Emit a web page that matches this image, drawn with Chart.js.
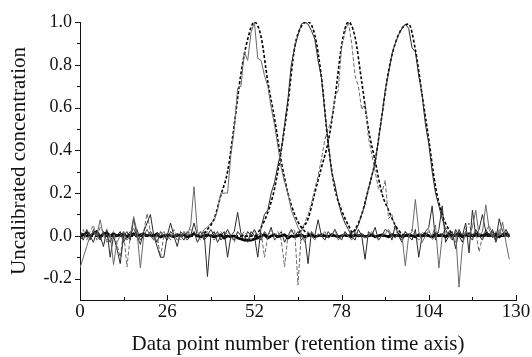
<!DOCTYPE html>
<html>
<head>
<meta charset="utf-8">
<script src="https://cdn.jsdelivr.net/npm/chart.js@4/dist/chart.umd.min.js"></script>
<style>
  html, body { margin: 0; padding: 0; background: #fff; }
  #wrap { width: 532px; height: 357px; }
</style>
</head>
<body>
<div id="wrap"><canvas id="c" width="532" height="357"></canvas></div>
<script>
// ---- Axis tick values ----
const xTickValues = [0, 26, 52, 78, 104, 130];
const yTickValues = [-0.2, 0.0, 0.2, 0.4, 0.6, 0.8, 1.0];

// ---- Data point numbers for the measured (noisy) traces: 0..128 ----
const dataPointNumbers = Array.from({ length: 129 }, (_, i) => i);

// ---- Noisy estimated profiles ----
const estA = [
  -0.15,-0.1,-0.05,0,0.02,0,0.075,0,-0.02,0.01,
  -0.135,-0.03,0,0.02,-0.02,0,0.09,0.02,-0.15,0,
  0.03,0,-0.02,0.01,0,0.02,-0.01,0,0.01,-0.02,
  0,0.02,0,0.05,0.23,0.02,0,0.03,0.04,0.06,
  0.07,0.12,0.2,0.2,0.2,0.38,0.5,0.69,0.7,0.86,
  0.82,0.95,1.0,0.83,0.82,0.75,0.7,0.6,0.52,0.42,
  0.32,0.25,0.2,0.12,0.08,0.04,0.01,-0.03,0.02,0,
  -0.02,0.01,0,0.02,-0.01,0,0.03,-0.02,0,0.01,
  0,-0.02,0.02,0,0.01,-0.01,0,0.02,0,-0.02,
  0,0.01,0.03,0,-0.01,0.02,0,-0.14,0,0.02,
  0.17,0.02,-0.03,0,0.02,0,0.05,-0.15,0,0.02,
  0,-0.01,0.02,-0.24,-0.05,0.02,0,0.04,0.12,0,
  0.02,0.145,0.03,-0.01,0.02,0,0.065,-0.03,-0.11
];
const estB = [
  0.01,-0.02,0.03,0,-0.03,0.02,0,-0.05,0.03,-0.1,
  0,-0.06,-0.13,0,0.02,-0.02,0.08,0,-0.04,0.02,
  0.06,0.1,0,-0.05,-0.1,-0.1,0,0.06,0,-0.05,
  0.02,0,-0.02,0,0.02,-0.03,0,0.02,-0.19,0,
  0.02,-0.03,0,0.02,-0.1,0,0.02,0.11,0.01,0,
  -0.03,0.02,0,-0.1,0.04,0.1,0.12,0.2,0.25,0.33,
  0.4,0.52,0.64,0.8,0.88,0.94,0.99,1.0,0.99,0.96,
  0.92,0.82,0.74,0.58,0.44,0.3,0.24,0.16,0.1,0.06,
  0.03,0,-0.02,0.03,0,-0.11,0.02,0,0.04,-0.02,
  0,0.03,0.02,-0.02,0.05,0,-0.03,0.02,0,-0.02,
  0.03,-0.1,0,0.02,0.04,0.14,-0.02,0.03,0.14,-0.03,
  0,0.02,-0.06,0.03,0,0.06,-0.08,0.12,0,0.03,
  0.1,0.02,0,0.03,-0.02,0.08,0.02,0,0.01
];
const estC = [
  0,0.03,-0.02,0.02,0.05,-0.02,0.04,0.02,-0.03,0,
  0.02,-0.04,-0.1,0.02,-0.145,0,0.04,-0.02,0,0.02,
  0.105,0.02,-0.02,0,-0.1,0,0.01,-0.02,0.03,0,
  -0.02,0.02,0,0.03,0.02,0,-0.02,0,0.02,0,
  -0.02,0,0.02,0,0.02,0,-0.03,0.02,0,0.02,
  0,-0.02,0.02,0,0.02,-0.1,0,0.03,0,0.02,
  -0.02,-0.145,0,0.02,0.03,-0.23,0.02,0.06,0.1,0.15,
  0.22,0.28,0.36,0.45,0.5,0.54,0.65,0.68,0.88,0.95,
  1.0,0.9,0.75,0.7,0.59,0.62,0.46,0.38,0.3,0.22,
  0.2,0.26,0.08,0.1,0.03,0,-0.02,0.02,0,0.03,
  0,-0.02,0.02,0,0.03,-0.02,0,0.02,0,0.04,
  0.02,0,-0.03,0.02,0,0.03,0.06,0,0.02,-0.075,
  0,0.02,0.05,0,-0.02,0.03,0,0.02,-0.02
];
const estD = [
  -0.02,0,0.02,-0.02,0.03,0,-0.02,0.02,0,-0.03,
  0.01,0,0.02,-0.03,0,0.02,0,0.03,-0.02,0,
  0,0.02,0,-0.03,0.02,0,-0.02,0.02,0,0.01,
  0,-0.02,0.02,0,0.06,0,0.02,-0.02,0,0.03,
  0,0.02,-0.02,0,0.03,0,-0.02,0.02,0,-0.02,
  0.02,0,0.03,0,-0.02,0.02,0,0.04,-0.02,0,
  0.02,-0.03,0,0.03,0,0.02,-0.02,0,-0.13,0.02,
  0,0.075,0,-0.02,0.02,0,0.03,0,-0.02,0.02,
  0,0.02,0.02,0.05,0.1,0.15,0.22,0.28,0.34,0.45,
  0.56,0.68,0.76,0.85,0.9,0.94,0.97,0.99,0.97,0.88,
  0.86,0.75,0.66,0.52,0.43,0.3,0.2,0.14,0.08,0.03,
  0,-0.02,0.03,0,-0.03,0.02,0,-0.02,0.03,0,
  -0.02,0.03,0,0.02,-0.03,0.02,0,0.03,0
];
const baselineTrace = [
  0.01,0.005,0.015,0,0.01,0.02,-0.005,0.01,0.015,0,
  0.01,0,0.005,0.01,-0.005,0.005,0.01,0,0.005,0.01,
  0,0.005,0,0.01,-0.005,0,0.005,0,-0.005,0.005,
  0,0.005,-0.005,0,0.01,0,-0.005,0,0.005,0,
  -0.005,0,0.005,-0.01,0,-0.005,0,-0.01,-0.015,-0.02,
  -0.02,-0.02,-0.015,-0.01,0,0.005,-0.01,0,0.005,-0.005,
  0,0.005,-0.01,0,-0.005,0,0.005,-0.005,0,0.005,
  -0.005,0,0.005,0,-0.005,0.005,0,-0.005,0,0.005,
  0,-0.005,0.005,0,0.005,-0.005,0,0.005,-0.005,0,
  0.005,0,-0.005,0.005,0,0.005,-0.005,0,0.005,0,
  -0.005,0.005,0,0.01,0,-0.005,0.01,0,0.005,-0.005,
  0.01,0,0.005,0.01,-0.005,0.005,0.01,0,0.01,0.005,
  0,0.01,0.005,0,0.01,-0.005,0.005,0.01,0
];

// ---- Smooth model profiles (dashed) ----
const model1X = [0,36,38,40,42,44,46,48,50,52,54,56,58,60,62,64,66,68,70,128];
const model1Y = [0,0,0.03,0.08,0.19,0.3,0.52,0.76,0.92,1.0,0.93,0.72,0.55,0.35,0.2,0.1,0.04,0.01,0,0];
const model2X = [0,52,54,56,58,60,62,64,66,68,70,72,74,76,78,80,82,128];
const model2Y = [0,0,0.04,0.11,0.22,0.4,0.62,0.88,0.98,1.0,0.94,0.74,0.43,0.22,0.12,0.05,0,0];
const model3X = [0,64,66,68,70,72,74,76,78,80,82,84,86,88,90,92,94,96,98,128];
const model3Y = [0,0,0.03,0.08,0.2,0.32,0.44,0.64,0.89,1.0,0.93,0.72,0.5,0.35,0.2,0.12,0.05,0.01,0,0];
const model4X = [0,80,82,84,86,88,90,92,94,96,98,100,102,104,106,108,110,112,128];
const model4Y = [0,0,0.03,0.1,0.22,0.35,0.56,0.77,0.9,0.97,0.99,0.87,0.66,0.45,0.23,0.1,0.03,0,0];

function pts(xs, ys) { return xs.map((x, i) => ({ x: x, y: ys[i] })); }

const SERIF = '"Liberation Serif", "DejaVu Serif", serif';
const INK = '#111';

function noisy(label, ys, color, width, dash) {
  return { label, data: pts(dataPointNumbers, ys), borderColor: color, borderWidth: width,
           borderDash: dash || [], pointRadius: 0, tension: 0, fill: false };
}
function model(label, xs, ys) {
  return { label, data: pts(xs, ys), borderColor: '#000', borderWidth: 1.6,
           borderDash: [3, 2], pointRadius: 0, cubicInterpolationMode: 'monotone', fill: false };
}

// Minor / inward tick marks drawn through the scales
const tickPlugin = {
  id: 'tickMarks',
  afterDatasetsDraw(chart) {
    const ctx = chart.ctx, xs = chart.scales.x, ys = chart.scales.y;
    const area = chart.chartArea;
    ctx.save();
    ctx.strokeStyle = INK; ctx.lineWidth = 1;
    ctx.beginPath();
    yTickValues.forEach((v) => {
      const p = Math.round(ys.getPixelForValue(v)) + 0.5;
      ctx.moveTo(area.left - 5, p); ctx.lineTo(area.left, p);
      const m = v - 0.1;
      if (m >= ys.min) {
        const q = Math.round(ys.getPixelForValue(m)) + 0.5;
        ctx.moveTo(area.left - 3, q); ctx.lineTo(area.left, q);
      }
    });
    xTickValues.forEach((v, i) => {
      const p = Math.round(xs.getPixelForValue(v)) + 0.5;
      ctx.moveTo(p, area.bottom); ctx.lineTo(p, area.bottom - 5);
      if (i > 0) {
        const q = Math.round(xs.getPixelForValue((v + xTickValues[i - 1]) / 2)) + 0.5;
        ctx.moveTo(q, area.bottom); ctx.lineTo(q, area.bottom - 3);
      }
    });
    ctx.stroke();
    ctx.restore();
  }
};

new Chart(document.getElementById('c'), {
  type: 'line',
  data: {
    datasets: [
      noisy('estimate 1', estA, '#6a6a6a', 1),
      noisy('estimate 2', estB, '#2a2a2a', 1),
      noisy('estimate 3', estC, '#6a6a6a', 1, [4, 2]),
      noisy('estimate 4', estD, '#2a2a2a', 1),
      noisy('baseline', baselineTrace, '#000', 2.6),
      model('model 1', model1X, model1Y),
      model('model 2', model2X, model2Y),
      model('model 3', model3X, model3Y),
      model('model 4', model4X, model4Y)
    ]
  },
  options: {
    responsive: false,
    animation: false,
    devicePixelRatio: 1,
    layout: { padding: { top: 22, right: 16, left: 0, bottom: 0 } },
    plugins: { legend: { display: false }, tooltip: { enabled: false } },
    scales: {
      x: {
        type: 'linear', min: 0, max: 130,
        afterBuildTicks: (s) => { s.ticks = xTickValues.map(v => ({ value: v })); },
        afterFit: (s) => { s.height = 57; },
        grid: { display: false, drawTicks: false },
        border: { display: true, color: INK, width: 1 },
        ticks: { color: INK, font: { family: SERIF, size: 19 }, padding: 1, maxRotation: 0,
                 callback: (v) => String(v) },
        title: { display: true, text: 'Data point number (retention time axis)', color: INK,
                 font: { family: SERIF, size: 21 }, padding: { top: 6, bottom: 0 } }
      },
      y: {
        type: 'linear', min: -0.3, max: 1.0,
        afterBuildTicks: (s) => { s.ticks = yTickValues.map(v => ({ value: v })); },
        afterFit: (s) => { s.width = 80; },
        grid: { display: false, drawTicks: false },
        border: { display: true, color: INK, width: 1 },
        ticks: { color: INK, font: { family: SERIF, size: 18 }, padding: 8,
                 callback: (v) => v.toFixed(1) },
        title: { display: true, text: 'Uncalibrated concentration', color: INK,
                 font: { family: SERIF, size: 21 }, padding: { top: 7, bottom: 0 } }
      }
    }
  },
  plugins: [tickPlugin]
});
</script>
</body>
</html>
